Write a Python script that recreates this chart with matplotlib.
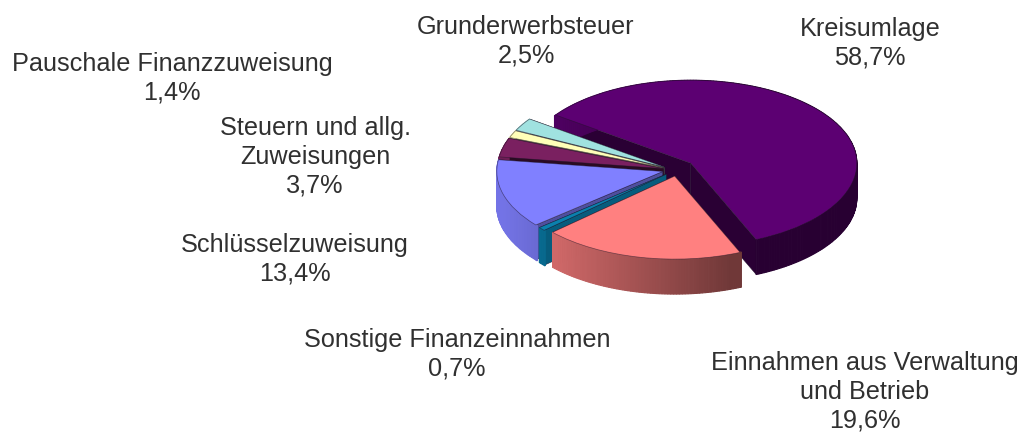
import numpy as np
import matplotlib
matplotlib.use("Agg")
import matplotlib.pyplot as plt
from matplotlib.colors import to_rgb
from matplotlib.transforms import Affine2D

plt.rcParams['font.family'] = ['Liberation Sans', 'DejaVu Sans']

# Data
names = ["Kreisumlage", "Einnahmen aus Verwaltung\nund Betrieb", "Sonstige Finanzeinnahmen",
         "Schlüsselzuweisung", "Steuern und allg.\nZuweisungen", "Pauschale Finanzzuweisung",
         "Grunderwerbsteuer"]
shares = [58.7, 19.6, 0.7, 13.4, 3.7, 1.4, 2.5]

# Layout and style
explode = [0.13, 0.075, 0.075, 0.065, 0.065, 0.065, 0.065]
nudge_x = [0.0, 0.02, 0.01, -0.005, 0.0, 0.0, 0.0]
colors = ["#5c0072", "#ff8080", "#0a80ad", "#8080ff", "#7a2060", "#ffffb8", "#a0e2e0"]
label_xy = [(870, 43), (865, 392), (457, 354), (295, 259), (315, 157), (172, 78), (526, 41)]
face_shade = [0.46, 0.6, 0.72, 0.62, 0.35, 0.6, 0.6]
CX, CY, RX, RY, DEPTH = 674, 170, 166, 83, 35
START = 144.5

fig = plt.figure(figsize=(10.23, 4.34), dpi=100, facecolor="white")
ax = fig.add_axes([0, 0, 1, 1])
wedges, _ = ax.pie(shares, explode=explode, colors=colors, startangle=START,
                   counterclock=False, radius=1, normalize=True)
ax.set_aspect("auto")
ax.set_xlim(0, 1023)
ax.set_ylim(434, 0)
ax.axis("off")
disk = Affine2D().scale(RX, -RY).translate(CX, CY) + ax.transData


def project(x, y):
    return CX + RX * np.asarray(x), CY - RY * np.asarray(y)


def shade(col, f):
    return tuple(min(1, c * f) for c in to_rgb(col))


def wall_factor(x):
    return float(np.clip(0.56 - 0.356 * x, 0.44, 0.9))


# back to front: Kreisumlage first, then round the far side to the nearest slice
order = [0, 6, 5, 4, 3, 2, 1]
for z, i in enumerate(order):
    w = wedges[i]
    c = colors[i]
    w.set_center((w.center[0] + nudge_x[i], w.center[1]))
    x0, y0 = w.center
    zb = 2 + z * 3
    # radial faces
    for th in (w.theta1, w.theta2):
        ex = x0 + np.cos(np.radians(th))
        ey = y0 + np.sin(np.radians(th))
        px, py = project([x0, ex], [y0, ey])
        ax.fill([px[0], px[1], px[1], px[0]],
                [py[0], py[1], py[1] + DEPTH, py[0] + DEPTH],
                facecolor=shade(c, face_shade[i]), edgecolor="#20102a",
                linewidth=0.3, zorder=zb)
    # outer wall as shaded strips
    ts = np.radians(np.arange(w.theta1, w.theta2 + 1.0, 1.0))
    ts = np.append(ts, np.radians(w.theta2))
    for a, b in zip(ts[:-1], ts[1:]):
        px, py = project(x0 + np.cos([a, b]), y0 + np.sin([a, b]))
        col = shade(c, wall_factor(np.cos((a + b) / 2)))
        ax.fill([px[0], px[1], px[1], px[0]],
                [py[0], py[1], py[1] + DEPTH, py[0] + DEPTH],
                facecolor=col, edgecolor=col, linewidth=0.8, zorder=zb + 1)
    # top surface
    w.set_transform(disk)
    w.set_zorder(zb + 2)
    w.set_edgecolor((0.12, 0.08, 0.15, 0.55))
    w.set_linewidth(0.5)

# Labels
for name, val, (lx, ly) in zip(names, shares, label_xy):
    pct = f"{val:.1f}".replace(".", ",")
    ax.text(lx, ly, f"{name}\n{pct}%", ha="center", va="center", fontsize=18.2,
            color="#303030", linespacing=1.26, zorder=50)

fig.savefig("out.png", dpi=100, facecolor="white")
